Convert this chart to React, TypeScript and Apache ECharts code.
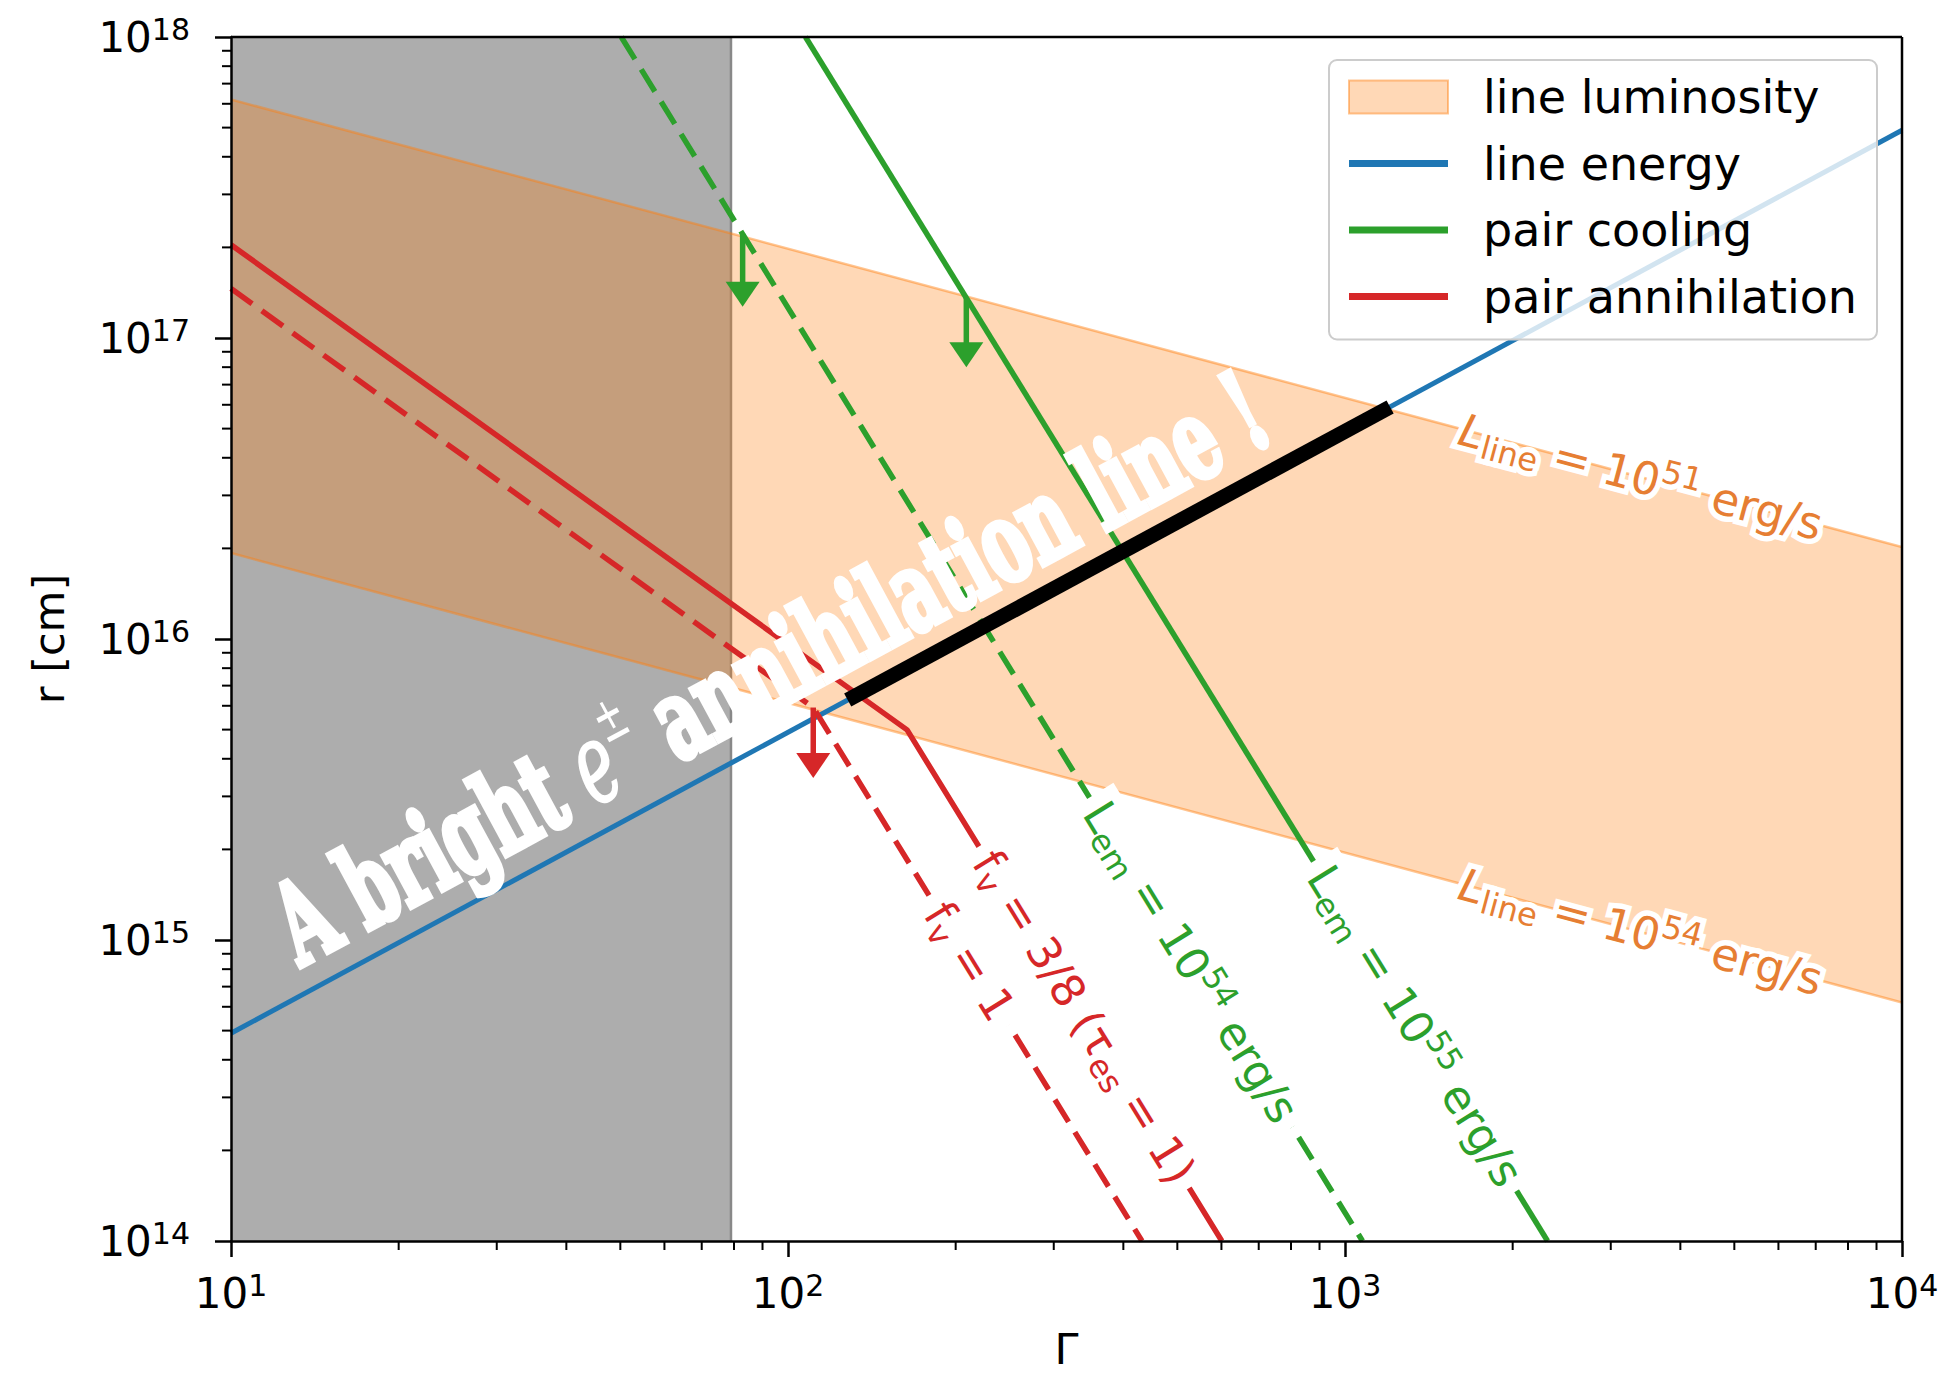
import React, { useEffect, useRef } from 'react';
import * as echarts from 'echarts';

// ---------------- data (Γ, r [cm]) ----------------
const GAMMA_MIN = 10;
const GAMMA_MAX = 1e4;
const R_MIN = 1e14;
const R_MAX = 1e18;

// Γ range excluded (grey)
const excludedGammaMax = 79;

// line-luminosity band edges: L_line = 1e51 (upper) and 1e54 (lower)
const lumUpper: number[][] = [[10, 6.2e17], [1e4, 2.02e16]];
const lumLower: number[][] = [[10, 1.93e16], [1e4, 6.2e14]];

// line energy
const lineEnergy: number[][] = [[10, 4.9e14], [1e4, 4.9e17]];

// bright annihilation line segment (on line-energy relation)
const brightLine: number[][] = [[128, 6.27e15], [1205, 5.9e16]];

// pair cooling: L_em = 1e54 (dashed), 1e55 (solid)
const cooling54: number[][] = [[50.2, 1e18], [1075, 1e14]];
const cooling55: number[][] = [[107.5, 1e18], [2310, 1e14]];

// pair annihilation: f_v = 3/8 (solid), f_v = 1 (dashed)
const annih38: number[][] = [[10, 2.04e17], [163.6, 4.99e15], [601, 1e14]];
const annih1: number[][] = [[10, 1.46e17], [111, 5.92e15], [432, 1e14]];

// upper-limit arrows: [Γ, r from, r to]
const coolingArrows: number[][] = [[82.9, 2.22e17, 1.27e17], [209, 1.36e17, 8.0e16]];
const annihArrows: number[][] = [[111, 5.92e15, 3.45e15]];

// tick helpers
const xDecades = [10, 100, 1000];
const yDecades = [1e14, 1e15, 1e16, 1e17];
const minorMultipliers = [2, 3, 4, 5, 6, 7, 8, 9];

const legendNames = ['line luminosity', 'line energy', 'pair cooling', 'pair annihilation'];

// ---------------- styles ----------------
const BLUE = '#1f77b4';
const GREEN = '#2ca02c';
const RED = '#d62728';
const ORANGE_FILL = 'rgba(255,127,14,0.3)';
const ORANGE_EDGE = 'rgba(255,127,14,0.45)';
const ORANGE_TEXT = '#e67e33';
const GREY = '#adadad';
const FONT = 'DejaVu Sans';
const SERIF = "'DejaVu Serif Condensed', 'DejaVu Serif'";
const LW = 5.5;
const DASH = [26, 12];

const LINES: Record<string, number[][]> = {
  lumUpper, lumLower, cooling54, cooling55, annih38, annih1, lineEnergy,
};

function segmentAt(line: number[][], g: number): number[][] {
  for (let i = 0; i < line.length - 1; i++) {
    if (g >= line[i][0] && g <= line[i + 1][0]) return [line[i], line[i + 1]];
  }
  return [line[line.length - 2], line[line.length - 1]];
}
function rAt(line: number[][], g: number): number {
  const [a, b] = segmentAt(line, g);
  const t = (Math.log10(g) - Math.log10(a[0])) / (Math.log10(b[0]) - Math.log10(a[0]));
  return Math.pow(10, Math.log10(a[1]) + t * (Math.log10(b[1]) - Math.log10(a[1])));
}

const ANN = 45;
const SUB = 32;
function richFor(color: string, halo: boolean) {
  const base: any = { fill: color, fontFamily: FONT };
  if (halo) { base.stroke = '#fff'; base.lineWidth = 11; }
  return {
    n: { ...base, fontSize: ANN, lineHeight: 56 },
    i: { ...base, fontSize: ANN, lineHeight: 56, fontStyle: 'italic' },
    sub: { ...base, fontSize: SUB, lineHeight: 38, verticalAlign: 'bottom' },
    sup: { ...base, fontSize: SUB, lineHeight: 34, verticalAlign: 'top' },
  };
}

const annotationLabels = [
  { gamma: 3396, line: 'lumUpper', text: '{i|L}{sub|line}{n| = 10}{sup|51}{n| erg/s}', color: ORANGE_TEXT, box: false },
  { gamma: 3396, line: 'lumLower', text: '{i|L}{sub|line}{n| = 10}{sup|54}{n| erg/s}', color: ORANGE_TEXT, box: false },
  { gamma: 529, line: 'cooling54', text: '{n|L}{sub|em}{n| = 10}{sup|54}{n| erg/s}', color: GREEN, box: true },
  { gamma: 1336, line: 'cooling55', text: '{n|L}{sub|em}{n| = 10}{sup|55}{n| erg/s}', color: GREEN, box: true },
  { gamma: 340, line: 'annih38', text: '{n|f}{sub|v}{n| = 3/8 (τ}{sub|es}{n| = 1)}', color: RED, box: true },
  { gamma: 212, line: 'annih1', text: '{n|f}{sub|v}{n| = 1}', color: RED, box: true },
];

// big headline anchor (centre), parallel to the line-energy relation
const headline = { gamma: 92.8, r: 8.0e15, length: 1110 };

function measure(font: string, text: string): number {
  const c = document.createElement('canvas').getContext('2d')!;
  c.font = font;
  return c.measureText(text).width;
}

function buildOption(): any {
  const HF = 112;
  const PM = Math.round(HF * 0.55);
  const wTotal =
    measure(`bold ${HF}px ${SERIF}`, 'A bright ') +
    measure(`italic ${HF}px ${SERIF}`, 'e') +
    measure(`${PM}px ${SERIF}`, '±') +
    measure(`bold ${HF}px ${SERIF}`, ' annihilation line !');
  const headScale = headline.length / wTotal;

  const tickRich = {
    b: { fontSize: 42, fontFamily: FONT, color: '#000', lineHeight: 46 },
    s: { fontSize: 30, fontFamily: FONT, color: '#000', lineHeight: 24, verticalAlign: 'top' },
  };
  const fmt = (v: number) => `{b|10}{s|${Math.round(Math.log10(v))}}`;

  const lineIcon = 'path://M0,0 M129,33 M0,13 L99,13 L99,20 L0,20 Z';
  const patchIcon = 'path://M0,0 M129,33 M0,0 L99,0 L99,33 L0,33 Z';

  return {
    animation: false,
    backgroundColor: '#fff',
    grid: { left: 231, right: 47, top: 37, bottom: 133, containLabel: false, outerBoundsMode: 'none' },
    legend: {
      orient: 'vertical',
      left: 1329,
      top: 60,
      z: 20,
      padding: [14, 20, 20, 19],
      itemWidth: 129,
      itemHeight: 33,
      itemGap: 20.5,
      selectedMode: false,
      backgroundColor: 'rgba(255,255,255,0.8)',
      borderColor: '#cccccc',
      borderWidth: 2,
      borderRadius: 8,
      textStyle: { fontSize: 46, fontFamily: FONT, color: '#000', lineHeight: 46 },
      data: [
        { name: legendNames[0], icon: patchIcon, itemStyle: { color: ORANGE_FILL, borderColor: ORANGE_EDGE, borderWidth: 2 } },
        { name: legendNames[1], icon: lineIcon, itemStyle: { color: BLUE, borderWidth: 0 } },
        { name: legendNames[2], icon: lineIcon, itemStyle: { color: GREEN, borderWidth: 0 } },
        { name: legendNames[3], icon: lineIcon, itemStyle: { color: RED, borderWidth: 0 } },
      ],
    },
    xAxis: {
      type: 'log',
      logBase: 10,
      min: GAMMA_MIN,
      max: GAMMA_MAX,
      z: 10,
      name: 'Γ',
      nameLocation: 'middle',
      nameGap: 86,
      nameTextStyle: { fontSize: 43, fontFamily: FONT, color: '#000' },
      axisLine: { lineStyle: { color: '#000', width: 2.5 } },
      axisTick: { length: 16, lineStyle: { color: '#000', width: 2.5 } },
      splitLine: { show: false },
      axisLabel: { formatter: fmt, rich: tickRich, margin: 29, showMinLabel: true, showMaxLabel: true },
    },
    yAxis: {
      type: 'log',
      logBase: 10,
      min: R_MIN,
      max: R_MAX,
      z: 10,
      name: 'r [cm]',
      nameLocation: 'middle',
      nameGap: 161,
      nameTextStyle: { fontSize: 43, fontFamily: FONT, color: '#000' },
      axisLine: { lineStyle: { color: '#000', width: 2.5 } },
      axisTick: { length: 16, lineStyle: { color: '#000', width: 2.5 } },
      splitLine: { show: false },
      axisLabel: { formatter: fmt, rich: tickRich, margin: 41, showMinLabel: true, showMaxLabel: true },
    },
    series: [
      // grey excluded region
      {
        type: 'custom', name: 'excluded', z: 1, silent: true, clip: true,
        data: [[GAMMA_MIN, R_MIN]],
        renderItem: (_p: any, api: any) => {
          const a = api.coord([GAMMA_MIN, R_MAX]);
          const b = api.coord([excludedGammaMax, R_MIN]);
          return {
            type: 'group',
            children: [
              { type: 'rect', shape: { x: a[0], y: a[1], width: b[0] - a[0], height: b[1] - a[1] }, style: { fill: GREY } },
              { type: 'line', shape: { x1: b[0], y1: a[1], x2: b[0], y2: b[1] }, style: { stroke: '#888', lineWidth: 2.5 } },
            ],
          };
        },
      },
      // line luminosity band
      {
        type: 'custom', name: legendNames[0], z: 2, silent: true, clip: true,
        data: [[GAMMA_MIN, R_MIN]],
        renderItem: (_p: any, api: any) => {
          const up = lumUpper.map((p) => api.coord(p));
          const lo = lumLower.map((p) => api.coord(p));
          return {
            type: 'group',
            children: [
              { type: 'polygon', shape: { points: up.concat(lo.slice().reverse()) }, style: { fill: ORANGE_FILL } },
              { type: 'polyline', shape: { points: up }, style: { stroke: ORANGE_EDGE, lineWidth: 2.5, fill: null } },
              { type: 'polyline', shape: { points: lo }, style: { stroke: ORANGE_EDGE, lineWidth: 2.5, fill: null } },
            ],
          };
        },
      },
      {
        type: 'line', name: legendNames[1], z: 3, data: lineEnergy, symbol: 'none', silent: true,
        color: BLUE, lineStyle: { color: BLUE, width: 5 },
      },
      {
        type: 'line', name: legendNames[2], z: 3, data: cooling55, symbol: 'none', silent: true,
        color: GREEN, lineStyle: { color: GREEN, width: LW },
      },
      {
        type: 'line', name: legendNames[2], z: 3, data: cooling54, symbol: 'none', silent: true,
        color: GREEN, lineStyle: { color: GREEN, width: LW, type: DASH },
      },
      {
        type: 'line', name: legendNames[3], z: 3, data: annih38, symbol: 'none', silent: true,
        color: RED, lineStyle: { color: RED, width: LW },
      },
      {
        type: 'line', name: legendNames[3], z: 3, data: annih1, symbol: 'none', silent: true,
        color: RED, lineStyle: { color: RED, width: LW, type: DASH },
      },
      {
        type: 'line', name: 'bright line', z: 4, data: brightLine, symbol: 'none', silent: true,
        lineStyle: { color: '#000', width: 15, cap: 'butt' },
      },
      // arrows
      {
        type: 'custom', name: 'arrows', z: 4, silent: true, clip: false,
        dimensions: ['g', 'from', 'to', 'c'],
        encode: { x: 0, y: 1 },
        data: coolingArrows.map((a) => [a[0], a[1], a[2], 0]).concat(annihArrows.map((a) => [a[0], a[1], a[2], 1])),
        renderItem: (_p: any, api: any) => {
          const g = api.value(0);
          const p0 = api.coord([g, api.value(1)]);
          const p1 = api.coord([g, api.value(2)]);
          const color = api.value(3) === 0 ? GREEN : RED;
          const hl = 25;
          const hw = 17;
          return {
            type: 'group',
            children: [
              { type: 'line', shape: { x1: p0[0], y1: p0[1], x2: p1[0], y2: p1[1] - hl + 2 }, style: { stroke: color, lineWidth: LW } },
              { type: 'polygon', shape: { points: [[p1[0], p1[1]], [p1[0] - hw, p1[1] - hl], [p1[0] + hw, p1[1] - hl]] }, style: { fill: color } },
            ],
          };
        },
      },
      // line labels
      {
        type: 'custom', name: 'labels', z: 5, silent: true, clip: false,
        data: annotationLabels.map((a) => [a.gamma, rAt(LINES[a.line], a.gamma)]),
        renderItem: (params: any, api: any) => {
          const a = annotationLabels[params.dataIndex];
          const seg = segmentAt(LINES[a.line], a.gamma);
          const p = api.coord([api.value(0), api.value(1)]);
          const s0 = api.coord(seg[0]);
          const s1 = api.coord(seg[1]);
          const rot = -Math.atan2(s1[1] - s0[1], s1[0] - s0[0]);
          const style: any = {
            text: a.text,
            rich: richFor(a.color, !a.box),
            fill: a.color,
            fontFamily: FONT,
            fontSize: ANN,
            align: 'center',
            verticalAlign: 'middle',
          };
          if (a.box) {
            style.backgroundColor = '#fff';
            style.padding = [0, 10];
          }
          return { type: 'text', x: p[0], y: p[1], rotation: rot, style };
        },
      },
      // headline
      {
        type: 'custom', name: 'headline', z: 6, silent: true, clip: false,
        data: [[headline.gamma, headline.r]],
        renderItem: (_p: any, api: any) => {
          const p = api.coord([api.value(0), api.value(1)]);
          const s0 = api.coord(lineEnergy[0]);
          const s1 = api.coord(lineEnergy[1]);
          const rot = -Math.atan2(s1[1] - s0[1], s1[0] - s0[0]);
          return {
            type: 'group',
            x: p[0],
            y: p[1],
            rotation: rot,
            children: [
              {
                type: 'text',
                scaleX: headScale,
                style: {
                  text: '{a|A bright }{e|e}{pm|±}{a| annihilation line !}',
                  align: 'center',
                  verticalAlign: 'middle',
                  fill: '#fff',
                  rich: {
                    a: { fill: '#fff', fontFamily: SERIF, fontWeight: 'bold', fontSize: HF, lineHeight: 128, stroke: '#fff', lineWidth: 6 },
                    e: { fill: '#fff', fontFamily: SERIF, fontStyle: 'italic', fontSize: HF, lineHeight: 128, stroke: '#fff', lineWidth: 2 },
                    pm: { fill: '#fff', fontFamily: SERIF, fontSize: PM, lineHeight: 96, verticalAlign: 'top' },
                  },
                },
              },
            ],
          };
        },
      },
      // minor ticks + top/right spines
      {
        type: 'custom', name: 'frame', z: 10, silent: true, clip: false,
        data: [[GAMMA_MIN, R_MIN]],
        renderItem: (_p: any, api: any) => {
          const tl = api.coord([GAMMA_MIN, R_MAX]);
          const br = api.coord([GAMMA_MAX, R_MIN]);
          const children: any[] = [];
          const ML = 9;
          xDecades.forEach((d) => minorMultipliers.forEach((m) => {
            const x = api.coord([d * m, R_MIN])[0];
            children.push({ type: 'line', shape: { x1: x, y1: br[1], x2: x, y2: br[1] + ML }, style: { stroke: '#000', lineWidth: 2 } });
          }));
          yDecades.forEach((d) => minorMultipliers.forEach((m) => {
            const y = api.coord([GAMMA_MIN, d * m])[1];
            children.push({ type: 'line', shape: { x1: tl[0] - ML, y1: y, x2: tl[0], y2: y }, style: { stroke: '#000', lineWidth: 2 } });
          }));
          children.push({ type: 'line', shape: { x1: tl[0], y1: tl[1], x2: br[0], y2: tl[1] }, style: { stroke: '#000', lineWidth: 2.5 } });
          children.push({ type: 'line', shape: { x1: br[0], y1: tl[1], x2: br[0], y2: br[1] }, style: { stroke: '#000', lineWidth: 2.5 } });
          return { type: 'group', children };
        },
      },
    ],
  };
}

export default function App() {
  const ref = useRef<HTMLDivElement>(null);
  useEffect(() => {
    document.body.style.margin = '0';
    const chart = echarts.init(ref.current!, null, { renderer: 'svg' });
    chart.setOption(buildOption());
    return () => chart.dispose();
  }, []);
  return (
    <div
      ref={ref}
      style={{ position: 'absolute', left: 0, top: 0, width: 1949, height: 1374, background: '#fff' }}
    />
  );
}
